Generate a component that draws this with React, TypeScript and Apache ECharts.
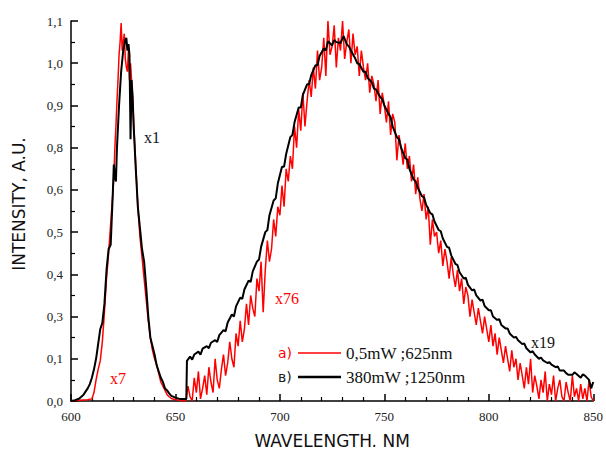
import React, { useEffect, useRef } from "react";
import * as echarts from "echarts";

// Y tick labels as printed on the original figure (equally spaced ticks)
const yTickLabels = ["0,0", "0,1", "0,3", "0,4", "0,5", "0,6", "0,8", "0,9", "1,0", "1,1"];
const xTicks = [600, 650, 700, 750, 800, 850];

// a) 0,5mW ;625nm  — narrow peak part, [wavelength nm, tick-position units]
const redNarrow: [number, number][] = [
  [600, 0.0], [604, 0.02], [608, 0.03], [610, 0.05], [611, 0.2], [612, 0.5], [613, 0.75],
  [614, 0.95], [615, 1.4], [616, 2.1], [617, 2.9], [618, 3.5], [619, 4.2], [620, 4.9],
  [620.5, 5.3], [621, 6.0], [621.5, 6.5], [622, 7.1], [622.5, 7.6], [623, 8.2], [623.5, 8.5],
  [624, 8.95], [624.5, 8.3], [625, 8.5], [625.5, 8.7], [626, 8.1], [626.5, 7.9], [627, 7.8],
  [627.5, 8.3], [628, 7.6], [628.5, 8.0], [629, 7.6], [629.5, 7.2], [630, 6.6], [631, 5.6],
  [632, 4.6], [633, 3.9], [634, 3.4], [635, 2.9], [636, 2.4], [637, 1.9], [638, 1.5],
  [639, 1.2], [640, 1.0], [641, 0.85], [642, 0.65], [643, 0.45], [644, 0.35], [645, 0.25],
  [646, 0.15], [647, 0.1], [648, 0.06], [650, 0.03], [652, 0.02], [654, 0.0],
];

// a) broad band part, one value per nm starting at 655 nm
const redBroadStart = 655;
const redBroad = [
  0.0, 0.35, 0.1, 0.0, 0.55, 0.2, 0.7, 0.05, 0.3, 0.6,
  0.15, 0.8, 0.45, 0.2, 1.0, 0.5, 0.3, 0.75, 1.1, 0.6,
  0.9, 1.4, 1.0, 0.8, 1.6, 1.3, 1.9, 1.4, 1.7, 2.3,
  1.8, 2.5, 2.2, 2.0, 2.9, 2.6, 3.3, 2.1, 3.1, 3.8,
  3.3, 3.6, 4.3, 3.9, 4.6, 4.4, 5.1, 4.6, 5.5, 5.2,
  5.8, 5.5, 6.5, 6.0, 6.9, 6.4, 7.3, 6.5, 7.1, 7.6,
  7.2, 7.9, 7.4, 8.3, 7.6, 7.9, 8.6, 7.7, 9.0, 8.2,
  8.4, 8.9, 7.9, 8.6, 8.3, 9.0, 8.1, 8.5, 8.8, 8.0,
  8.7, 8.2, 8.4, 7.7, 8.3, 7.9, 7.6, 8.0, 7.3, 7.7,
  7.5, 7.1, 7.6, 6.8, 7.3, 7.0, 6.6, 7.1, 6.3, 6.8,
  6.6, 5.7, 6.3, 6.0, 5.6, 6.1, 5.5, 5.8, 5.2, 5.6,
  4.9, 5.3, 4.8, 4.5, 4.9, 4.3, 4.6, 3.7, 4.3, 3.9,
  4.0, 3.5, 3.8, 3.2, 3.6, 3.3, 2.9, 3.4, 3.0, 2.7,
  3.1, 2.6, 2.9, 2.3, 2.7, 2.5, 2.0, 2.4, 2.1, 1.8,
  2.2, 1.9, 1.6, 2.0, 1.7, 1.4, 1.8, 1.3, 1.6, 1.1,
  1.5, 1.2, 0.9, 1.3, 1.0, 0.7, 1.2, 0.8, 1.0, 0.5,
  0.9, 0.6, 0.3, 0.8, 0.4, 1.0, 0.2, 0.6, 0.35, 0.05,
  0.5, 0.2, 0.7, 0.0, 0.4, 0.15, 0.6, 0.0, 0.3, 0.5,
  0.1, 0.0, 0.45, 0.2, 0.0, 0.6, 0.1, 0.3, 0.0, 0.4,
  0.05, 0.3, 0.0, 0.5, 0.1, 0.0,
];

// в) 380mW ;1250nm — [wavelength nm, tick-position units]
const blackCurve: [number, number][] = [
  [600, 0.0], [602, 0.02], [604, 0.06], [606, 0.15], [608, 0.3], [609, 0.4], [610, 0.55],
  [611, 0.75], [612, 1.0], [613, 1.35], [614, 1.7], [615, 1.85], [616, 2.3], [617, 3.1],
  [618, 3.6], [619, 3.7], [620, 4.9], [620.5, 5.6], [621, 5.3], [621.5, 5.2], [622, 6.0],
  [622.5, 6.5], [623, 7.0], [624, 7.8], [625, 8.3], [626, 8.55], [626.5, 8.6], [627, 8.3],
  [627.5, 8.45], [628, 8.2], [628.5, 6.2], [629, 7.6], [629.5, 7.2], [630, 6.5], [631, 5.5],
  [632, 4.6], [633, 4.1], [634, 3.6], [635, 3.3], [636, 2.7], [637, 2.0], [638, 1.5],
  [639, 1.3], [640, 1.1], [641, 0.85], [642, 0.7], [643, 0.55], [644, 0.45], [645, 0.3],
  [646, 0.25], [647, 0.18], [648, 0.12], [650, 0.08], [652, 0.05], [654, 0.05], [655.2, 0.05],
  [655.5, 0.95], [657, 1.05], [658, 0.98], [659, 1.1], [661, 1.17], [662, 1.1], [663, 1.24],
  [665, 1.3], [666, 1.25], [667, 1.38], [669, 1.44], [670, 1.4], [671, 1.56], [673, 1.68],
  [674, 1.65], [675, 1.86], [677, 2.05], [678, 2.0], [679, 2.24], [681, 2.45], [682, 2.42],
  [683, 2.64], [685, 2.85], [686, 2.82], [687, 3.07], [689, 3.3], [690, 3.35], [691, 3.65],
  [693, 4.0], [694, 4.05], [695, 4.4], [697, 4.75], [698, 4.8], [699, 5.15], [701, 5.55],
  [702, 5.55], [703, 5.85], [705, 6.25], [706, 6.3], [707, 6.6], [709, 6.95], [710, 6.95],
  [711, 7.25], [713, 7.5], [714, 7.5], [715, 7.72], [717, 7.95], [718, 7.95], [719, 8.17],
  [721, 8.35], [722, 8.3], [723, 8.52], [725, 8.42], [726, 8.55], [727, 8.5], [729, 8.48],
  [730.5, 8.64], [732, 8.45], [733, 8.4], [734, 8.3], [736, 8.12], [737, 8.0], [738, 7.98],
  [740, 7.8], [741, 7.8], [742, 7.65], [744, 7.55], [745, 7.4], [746, 7.38], [748, 7.2],
  [749, 7.15], [750, 7.0], [752, 6.8], [753, 6.72], [754, 6.5], [756, 6.25], [757, 6.2],
  [758, 6.0], [760, 5.75], [761, 5.72], [762, 5.5], [764, 5.25], [765, 5.2], [766, 5.05],
  [768, 4.85], [769, 4.82], [770, 4.65], [772, 4.45], [773, 4.42], [774, 4.25], [776, 4.05],
  [777, 4.02], [778, 3.85], [780, 3.65], [781, 3.63], [782, 3.45], [784, 3.25], [785, 3.22],
  [786, 3.05], [788, 2.9], [789, 2.92], [790, 2.75], [792, 2.62], [793, 2.64], [794, 2.5],
  [796, 2.38], [797, 2.4], [798, 2.25], [800, 2.15], [801, 2.15], [802, 2.0], [804, 1.92],
  [805, 1.94], [806, 1.8], [808, 1.72], [809, 1.72], [810, 1.6], [812, 1.5], [813, 1.52],
  [814, 1.44], [816, 1.35], [817, 1.36], [818, 1.25], [820, 1.15], [821, 1.18], [822, 1.1],
  [824, 1.0], [825, 1.03], [826, 0.96], [828, 0.9], [829, 0.92], [830, 0.86], [832, 0.8],
  [833, 0.82], [834, 0.72], [836, 0.72], [837, 0.66], [838, 0.62], [840, 0.62], [841, 0.68],
  [842, 0.64], [844, 0.55], [845, 0.63], [846, 0.6], [848, 0.5], [849, 0.3], [850, 0.45],
];

const legendNames = ["0,5mW ;625nm", "380mW ;1250nm"];
const legendPrefixes = ["а)", "в)"];
const annotations = [
  { text: "x1", color: "#10102a" },
  { text: "x7", color: "#ff0000" },
  { text: "x76", color: "#ff0000" },
  { text: "x19", color: "#111111" },
];

const SERIF = "'Liberation Serif', 'Times New Roman', serif";
const SANS = "'DejaVu Sans', Verdana, sans-serif";

export default function App() {
  const ref = useRef<HTMLDivElement>(null);
  useEffect(() => {
    if (!ref.current) return;
    const chart = echarts.init(ref.current, undefined, { renderer: "svg" });
    const redData: [number, number][] = [
      ...redNarrow,
      ...redBroad.map((v, i) => [redBroadStart + i, v] as [number, number]),
    ];
    const annPos = [
      [152, 137],
      [118, 378],
      [287, 298],
      [543, 342],
    ];
    const graphic: any[] = annotations.map((a, i) => ({
      type: "text",
      x: annPos[i][0],
      y: annPos[i][1],
      style: {
        text: a.text,
        fill: a.color,
        font: `16px ${SERIF}`,
        align: "center",
        verticalAlign: "middle",
      },
    }));
    const rows = [353, 377];
    const colors = ["#ff0000", "#000000"];
    const widths = [1.5, 2.5];
    rows.forEach((y, i) => {
      graphic.push({
        type: "text",
        x: 278,
        y,
        style: {
          text: legendPrefixes[i],
          fill: colors[i] === "#000000" ? "#222" : colors[i],
          font: `14px ${SANS}`,
          align: "left",
          verticalAlign: "middle",
        },
      });
      graphic.push({
        type: "line",
        shape: { x1: 298, y1: y, x2: 341, y2: y },
        style: { stroke: colors[i], lineWidth: widths[i] },
      });
      graphic.push({
        type: "text",
        x: 346,
        y,
        style: {
          text: legendNames[i],
          fill: "#111",
          font: `17px ${SERIF}`,
          align: "left",
          verticalAlign: "middle",
        },
      });
    });

    chart.setOption({
      animation: false,
      backgroundColor: "#ffffff",
      grid: { left: 71, top: 21, width: 525, height: 387, containLabel: false },
      xAxis: {
        type: "value",
        min: xTicks[0],
        max: xTicks[xTicks.length - 1],
        interval: 50,
        name: "WAVELENGTH. NM",
        nameLocation: "middle",
        nameGap: 31,
        nameTextStyle: { fontFamily: SANS, fontSize: 17, color: "#111" },
        axisLine: { lineStyle: { color: "#000", width: 1.5 } },
        axisTick: { inside: true, length: 7, lineStyle: { color: "#000", width: 1.5 } },
        minorTick: { show: true, splitNumber: 5, length: 4, lineStyle: { color: "#000", width: 1.2 } },
        axisLabel: { fontFamily: SERIF, fontSize: 13, color: "#222", margin: 9 },
        splitLine: { show: false },
      },
      yAxis: {
        type: "value",
        min: 0,
        max: yTickLabels.length - 1,
        interval: 1,
        name: "INTENSITY, A.U.",
        nameLocation: "middle",
        nameGap: 44,
        nameTextStyle: { fontFamily: SANS, fontSize: 17, color: "#111", padding: [0, 0, 0, 14] },
        axisLine: { show: true, lineStyle: { color: "#000", width: 1.5 } },
        axisTick: { show: true, inside: true, length: 7, lineStyle: { color: "#000", width: 1.5 } },
        minorTick: { show: true, splitNumber: 2, length: 4, lineStyle: { color: "#000", width: 1.2 } },
        axisLabel: {
          fontFamily: SERIF,
          fontSize: 13,
          color: "#222",
          margin: 8,
          formatter: (v: number) => yTickLabels[Math.round(v)] ?? "",
        },
        splitLine: { show: false },
      },
      series: [
        {
          name: legendNames[0],
          type: "line",
          data: redData,
          showSymbol: false,
          symbol: "none",
          lineStyle: { color: "#ff0000", width: 1.5 },
          z: 2,
        },
        {
          name: legendNames[1],
          type: "line",
          data: blackCurve,
          showSymbol: false,
          symbol: "none",
          lineStyle: { color: "#000000", width: 2 },
          z: 3,
        },
      ],
      graphic,
    });
    return () => chart.dispose();
  }, []);
  return (
    <div
      ref={ref}
      style={{ position: "fixed", left: 0, top: 0, width: 606, height: 454, background: "#fff" }}
    />
  );
}
